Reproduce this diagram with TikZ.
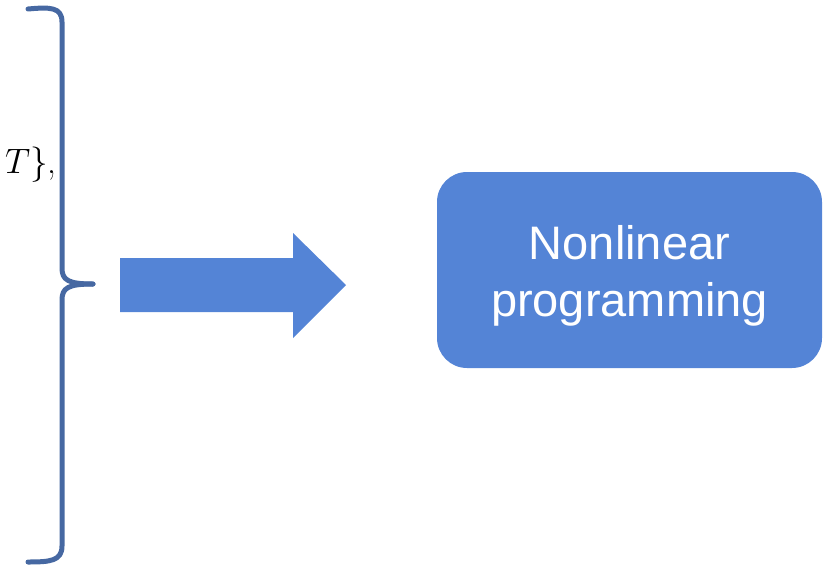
\documentclass[tikz,border=0pt]{standalone}
\usepackage{fontspec}
\newfontfamily\boxfont{Liberation Sans}
\definecolor{braceblue}{RGB}{70,104,162}
\definecolor{fillblue}{RGB}{84,132,214}
\tikzset{
  bracestroke/.style={draw=braceblue, line width=5pt, line cap=round, line join=round},
  nlpbox/.style={rectangle, rounded corners=30pt, fill=fillblue,
    minimum width=385pt, minimum height=196pt, inner sep=0pt},
  nlptext/.style={text=white, align=center, inner sep=0pt,
    font=\boxfont\fontsize{47}{57}\selectfont},
  mathlabel/.style={inner sep=0pt, font=\Huge, scale=1.42, transform shape}
}
\begin{document}
\begin{tikzpicture}[x=1pt, y=-1pt]
  \useasboundingbox (0,0) rectangle (833,571);
  % closing brace on the left
  \draw[bracestroke] (28,9) .. controls (50,7) and (62,7) .. (62,22) -- (62,268)
    .. controls (62,280) and (68,284) .. (93,284);
  \draw[bracestroke] (93,284) .. controls (68,284) and (62,288) .. (62,300) -- (62,546)
    .. controls (62,561) and (50,562) .. (28,562);
  % tail of the set expression
  \node[mathlabel, anchor=base east] (tail) at (57,173) {$T\}$,};
  % block arrow
  \fill[fillblue] (120,258) -- (293,258) -- (293,233) -- (346,285) -- (293,338)
    -- (293,312) -- (120,312) -- cycle;
  % target box and its caption
  \node[nlpbox] (nlp) at (629.5,270) {};
  \node[nlptext] (nlplabel) at ([yshift=-6pt]nlp.center) {Nonlinear\\programming};
\end{tikzpicture}
\end{document}
